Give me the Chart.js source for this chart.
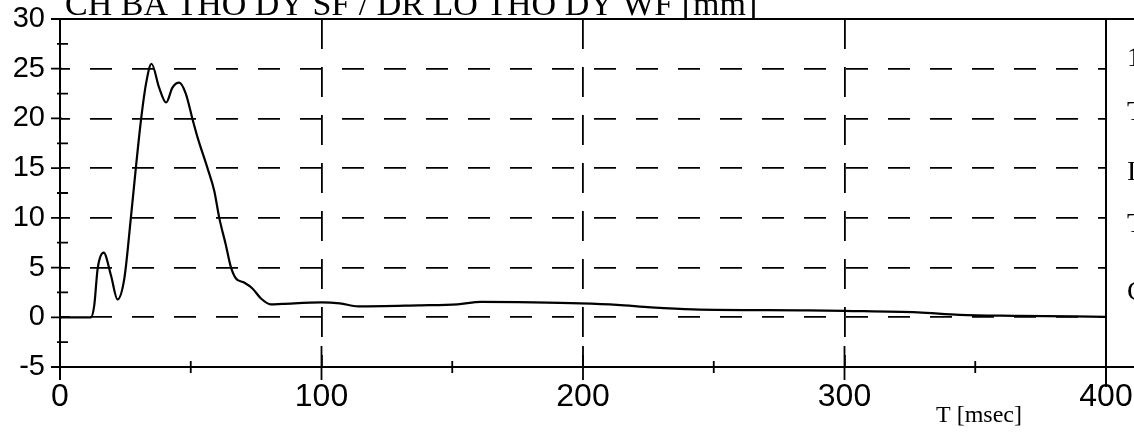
<!DOCTYPE html>
<html>
<head>
<meta charset="utf-8">
<script src="https://cdn.jsdelivr.net/npm/chart.js@4.4.1/dist/chart.umd.min.js"></script>
<style>
  html, body { margin: 0; padding: 0; background: #fff; overflow: hidden; }
</style>
</head>
<body>
<canvas id="chart" width="1134" height="434"></canvas>
<script>
// displacement curve
const times  = [0, 11.8, 13.1, 14.4, 16.7, 19.5, 22, 24.6, 27.1, 29, 31, 32.9, 35, 37.9, 40.6, 43, 45.6, 48.1,
                50.7, 52.6, 56.4, 59, 60.9, 63.4, 65.3, 67.3, 70.4, 73.6, 76.8, 80.6, 85, 100, 107, 114, 137,
                152, 161, 181, 199, 213, 226, 242, 286, 300, 328, 344, 366, 400];
const values = [0, 0, 1.2, 4.9, 6.5, 4.2, 1.8, 3.9, 10, 15, 19.9, 23.5, 25.5, 23.1, 21.6, 23.1, 23.6, 22.5,
                19.9, 18.1, 15, 12.7, 10, 7.3, 5.1, 3.9, 3.5, 2.9, 1.9, 1.3, 1.35, 1.5, 1.4, 1.1, 1.2,
                1.3, 1.55, 1.5, 1.4, 1.25, 1.0, 0.8, 0.7, 0.65, 0.5, 0.25, 0.15, 0.05];

const xMin = 0, xMax = 400, xStep = 100, xMinor = 50;
const yMin = -5, yMax = 30, yStep = 5, yMinor = 2.5;
const dashedY = [0, 5, 10, 15, 20, 25];
const dashedX = [100, 200, 300];

const titleText = 'CH BA THO DY SF / DR LO THO DY WF [mm]';
const xLabelText = 'T [msec]';
const sideLetters = ['1', 'T', 'I', 'T', 'C'];

Chart.defaults.font.family = "'Liberation Sans', Arial, sans-serif";
Chart.defaults.color = '#000';
Chart.defaults.plugins.legend.display = false;

// frame, tick marks and the loose texts
const frame = {
  id: 'frame',
  afterDraw(chart) {
    const {ctx, chartArea: a, scales: {x, y}} = chart;
    ctx.save();
    ctx.strokeStyle = '#000';
    ctx.lineWidth = 2;
    ctx.beginPath();
    // left axis, right border, top and bottom lines
    ctx.moveTo(a.left, a.top); ctx.lineTo(a.left, a.bottom + 13);
    ctx.moveTo(a.right, a.top); ctx.lineTo(a.right, a.bottom + 20);
    ctx.moveTo(a.left - 9, a.top); ctx.lineTo(chart.width, a.top);
    ctx.moveTo(a.left, a.bottom); ctx.lineTo(chart.width, a.bottom);
    ctx.stroke();

    ctx.lineWidth = 1.8;
    ctx.beginPath();
    for (let v = yMin; v <= yMax; v += yMinor) {
      const py = y.getPixelForValue(v);
      if (v % yStep === 0) { ctx.moveTo(a.left - 9, py); ctx.lineTo(a.left + 2, py); }
      else { ctx.moveTo(a.left - 3, py); ctx.lineTo(a.left + 8, py); }
    }
    for (let v = xMin; v <= xMax; v += xMinor) {
      const px = x.getPixelForValue(v);
      if (v % xStep === 0) { ctx.moveTo(px, a.bottom - 21); ctx.lineTo(px, a.bottom + 13); }
      else { ctx.moveTo(px, a.bottom - 6); ctx.lineTo(px, a.bottom + 6); }
    }
    ctx.stroke();

    ctx.fillStyle = '#000';
    ctx.textBaseline = 'alphabetic';
    ctx.textAlign = 'left';
    ctx.font = "34px 'Liberation Serif', 'Times New Roman', serif";
    ctx.fillText(titleText, a.left + 5, 15);

    ctx.font = "24px 'Liberation Serif', 'Times New Roman', serif";
    ctx.fillText(xLabelText, 936, 422);

    ctx.font = "28px 'Liberation Serif', 'Times New Roman', serif";
    const rows = [66, 120, 180, 232, 300];
    sideLetters.forEach((s, i) => ctx.fillText(s, a.right + 21, rows[i]));
    ctx.restore();
  }
};

new Chart(document.getElementById('chart'), {
  type: 'line',
  data: {
    datasets: [{
      data: times.map((t, i) => ({x: t, y: values[i]})),
      borderColor: '#000',
      borderWidth: 2.2,
      pointRadius: 0,
      fill: false,
      cubicInterpolationMode: 'monotone'
    }]
  },
  options: {
    responsive: false,
    animation: false,
    events: [],
    layout: { padding: { left: 0, right: 28, top: 19, bottom: 0 } },
    plugins: { tooltip: { enabled: false } },
    scales: {
      x: {
        type: 'linear',
        min: xMin, max: xMax,
        afterFit(s) { s.height = 67; s.paddingLeft = 0; s.paddingRight = 0; },
        ticks: { stepSize: xStep, font: { size: 32 }, padding: 11, maxRotation: 0 },
        grid: {
          drawTicks: false,
          lineWidth: 1.8,
          color: c => dashedX.includes(c.tick && c.tick.value) ? '#000' : 'rgba(0,0,0,0)'
        },
        border: { display: false, dash: [30, 18] }
      },
      y: {
        min: yMin, max: yMax,
        afterFit(s) { s.width = 60; s.paddingTop = 0; s.paddingBottom = 0; },
        ticks: { stepSize: yStep, font: { size: 29 }, padding: 15 },
        grid: {
          drawTicks: false,
          lineWidth: 1.8,
          color: c => dashedY.includes(c.tick && c.tick.value) ? '#000' : 'rgba(0,0,0,0)'
        },
        border: { display: false, dash: [22, 20], dashOffset: 12 }
      }
    }
  },
  plugins: [frame]
});
</script>
</body>
</html>
